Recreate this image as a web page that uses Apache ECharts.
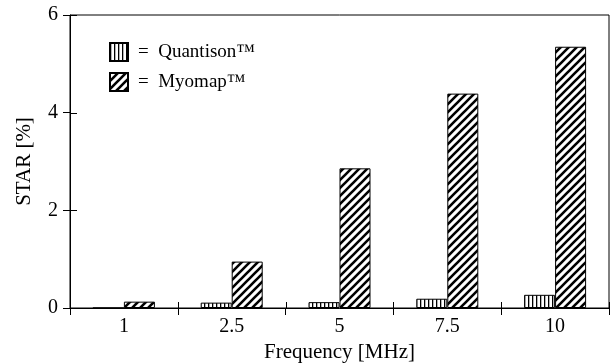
<!DOCTYPE html>
<html>
<head>
<meta charset="utf-8">
<script src="https://cdn.jsdelivr.net/npm/echarts@6/dist/echarts.min.js"></script>
<style>
  html, body { margin: 0; padding: 0; background: #fff; }
  #chart1 { width: 613px; height: 364px; }
</style>
</head>
<body>
<div id="chart1"></div>
<script>
var categories = ['1', '2.5', '5', '7.5', '10'];
var quantison = [0, 0.11, 0.12, 0.19, 0.27];
var myomap = [0.13, 0.95, 2.86, 4.39, 5.35];
var yTicks = [0, 2, 4, 6];

// hatch fills like the printed figure
function vertStripes() {
    var c = document.createElement('canvas');
    c.width = 4; c.height = 4;
    var g = c.getContext('2d');
    g.fillStyle = '#fff';
    g.fillRect(0, 0, 4, 4);
    g.fillStyle = '#000';
    g.fillRect(0, 0, 1.3, 4);
    return c;
}
function diagStripes() {
    var s = 8;
    var c = document.createElement('canvas');
    c.width = s; c.height = s;
    var g = c.getContext('2d');
    g.fillStyle = '#fff';
    g.fillRect(0, 0, s, s);
    g.strokeStyle = '#000';
    g.lineWidth = 2.6;
    g.beginPath();
    g.moveTo(0, s); g.lineTo(s, 0);
    g.moveTo(-2, 2); g.lineTo(2, -2);
    g.moveTo(s - 2, s + 2); g.lineTo(s + 2, s - 2);
    g.stroke();
    return c;
}

// inner half of the crossing ticks, placed with the axes' own scales
function renderInnerTicks(params, api) {
    var i = api.value(0);
    var bw = api.size([1, 0])[0];
    var base = api.coord([i, 0]);
    var st = { stroke: '#000', lineWidth: 1 };
    var kids = [];
    var xl = Math.round(base[0] - bw / 2) + 0.5;
    kids.push({ type: 'line', shape: { x1: xl, y1: base[1], x2: xl, y2: base[1] - 6 }, style: st });
    if (i === categories.length - 1) {
        var xr = Math.round(base[0] + bw / 2) + 0.5;
        kids.push({ type: 'line', shape: { x1: xr, y1: base[1], x2: xr, y2: base[1] - 6 }, style: st });
    }
    if (i === 0) {
        yTicks.forEach(function (v) {
            var p = api.coord([0, v]);
            var y = Math.round(p[1]) + 0.5;
            kids.push({ type: 'line', shape: { x1: xl - 0.5, y1: y, x2: xl + 6.5, y2: y }, style: st });
        });
    }
    return { type: 'group', children: kids };
}

var font = 'Liberation Serif';
var myChart1 = echarts.init(document.getElementById('chart1'));

var option1 = {
    backgroundColor: '#fff',
    animation: false,
    textStyle: { fontFamily: font, color: '#000' },
    grid: {
        left: 70, right: 4, top: 15, bottom: 56,
        outerBoundsMode: 'none',
        containLabel: false,
        show: true, borderColor: '#000', borderWidth: 1
    },
    legend: {
        orient: 'vertical',
        left: 104, top: 37,
        icon: 'rect',
        itemWidth: 18, itemHeight: 18, itemGap: 10,
        formatter: function (name) { return '=  ' + name; },
        textStyle: { fontFamily: font, fontSize: 19, color: '#000', padding: [0, 0, 0, 5] },
        data: ['Quantison™', 'Myomap™']
    },
    xAxis: {
        type: 'category',
        data: categories,
        name: 'Frequency [MHz]',
        nameLocation: 'middle',
        nameGap: 33,
        nameTextStyle: { fontFamily: font, fontSize: 21, color: '#000' },
        axisLine: { lineStyle: { color: '#000', width: 1 } },
        axisTick: { show: true, length: 7, lineStyle: { color: '#000' } },
        axisLabel: { fontFamily: font, fontSize: 20, color: '#000', margin: 9 }
    },
    yAxis: {
        type: 'value',
        min: 0, max: 6, interval: 2,
        name: 'STAR [%]',
        nameLocation: 'middle',
        nameGap: 35,
        nameTextStyle: { fontFamily: font, fontSize: 21, color: '#000' },
        splitLine: { show: false },
        axisLine: { show: true, lineStyle: { color: '#000', width: 1 } },
        axisTick: { show: true, length: 7, lineStyle: { color: '#000' } },
        axisLabel: { fontFamily: font, fontSize: 20, color: '#000', margin: 12 }
    },
    series: [
        {
            name: 'Quantison™',
            type: 'bar',
            barWidth: 31,
            barGap: '0%',
            data: quantison,
            itemStyle: {
                color: { image: vertStripes(), repeat: 'repeat' },
                borderColor: '#000', borderWidth: 1
            }
        },
        {
            name: 'Myomap™',
            type: 'bar',
            barWidth: 31,
            barGap: '0%',
            data: myomap,
            itemStyle: {
                color: { image: diagStripes(), repeat: 'repeat' },
                borderColor: '#000', borderWidth: 1
            }
        },
        {
            name: 'innerTicks',
            type: 'custom',
            silent: true,
            clip: false,
            z: 10,
            renderItem: renderInnerTicks,
            encode: { x: 0, y: 1 },
            data: categories.map(function (c, i) { return [i, 0]; })
        }
    ]
};
myChart1.setOption(option1);

window.onresize = function () {
    myChart1.resize();
}
</script>
</body>
</html>
